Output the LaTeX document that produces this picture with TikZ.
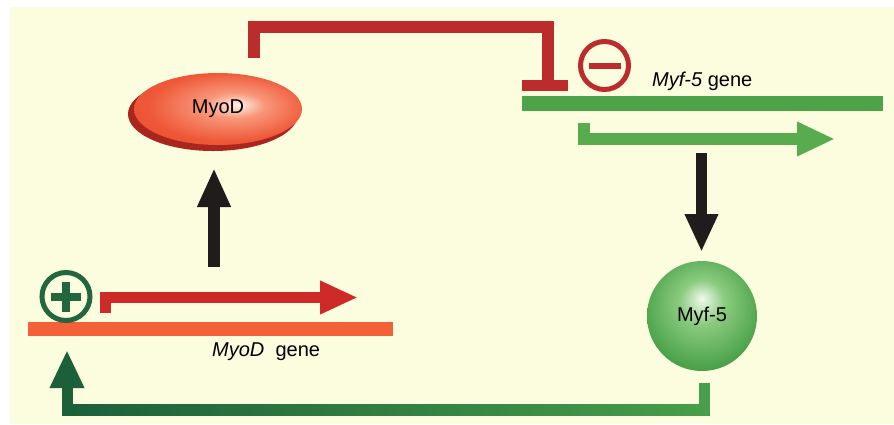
\documentclass[tikz,border=0pt]{standalone}
\usepackage{fontspec}
\setmainfont{Liberation Sans}
\usetikzlibrary{arrows.meta,shapes.geometric}
\definecolor{bg}{RGB}{252,252,222}
\definecolor{inhred}{RGB}{188,44,44}
\definecolor{arrred}{RGB}{205,42,40}
\definecolor{genered}{RGB}{244,96,56}
\definecolor{genegreen}{RGB}{76,163,72}
\definecolor{arrgreen}{RGB}{88,172,78}
\definecolor{plusgreen}{RGB}{34,102,62}
\definecolor{fbdark}{RGB}{28,96,58}
\definecolor{fblight}{RGB}{72,158,74}
\definecolor{arrblack}{RGB}{32,28,28}
\definecolor{shadowred}{RGB}{170,38,28}
\definecolor{ellA}{RGB}{255,240,232}
\definecolor{ellB}{RGB}{248,150,120}
\definecolor{ellC}{RGB}{238,88,56}
\definecolor{ellD}{RGB}{222,64,40}
\definecolor{sphA}{RGB}{240,250,236}
\definecolor{sphB}{RGB}{140,204,128}
\definecolor{sphC}{RGB}{72,160,72}
\definecolor{sphD}{RGB}{36,110,48}
\pgfdeclareradialshading{myodshade}{\pgfpoint{6bp}{3bp}}{color(0bp)=(ellA); color(9bp)=(ellB); color(24bp)=(ellC); color(50bp)=(ellD)}
\pgfdeclareradialshading{sphereshade}{\pgfpoint{0bp}{8bp}}{color(0bp)=(sphA); color(10bp)=(sphB); color(28bp)=(sphC); color(50bp)=(sphD)}
\tikzset{
  lbl/.style={font=\fontsize{20}{24}\selectfont, inner sep=0pt},
  genebar/.style={rectangle, inner sep=0pt, anchor=north west},
  bigarrow/.style={line width=12pt, line join=miter, -{Triangle[length=38pt,width=31pt]}},
  sign/.style={circle, line width=5pt, minimum size=48pt, inner sep=0pt}
}
\begin{document}
\begin{tikzpicture}[x=1pt,y=-1pt]
\useasboundingbox (0,0) rectangle (894,424);
\fill[white] (0,0) rectangle (894,424);
\fill[bg] (10,7) rectangle (894,424);

% gene bars
\node[genebar, fill=genered, minimum width=365pt, minimum height=14pt] (myodgene) at (28,322) {};
\node[genebar, fill=genegreen, minimum width=361pt, minimum height=15pt] (myfgene) at (522,96) {};
\node[lbl, anchor=base west] (myodlbl) at (212,356) {\textit{MyoD}\ \ gene};
\node[lbl, anchor=base west] (myflbl) at (652,86) {\textit{Myf-5} gene};

% MyoD protein
\fill[shadowred] (213,114) ellipse [x radius=85pt, y radius=37pt];
\node[ellipse, shade, shading=myodshade, minimum width=168pt, minimum height=72pt, inner sep=0pt, lbl] (myod) at (218,109) {MyoD};

% Myf-5 protein
\node[circle, shade, shading=sphereshade, minimum size=110pt, inner sep=0pt, lbl] (myf) at (702,316) {Myf-5};

% signs
\node[sign, draw=plusgreen] (plus) at (66,296.5) {};
\draw[plusgreen, line width=8pt] ([xshift=-15pt]plus.center) -- ([xshift=15pt]plus.center);
\draw[plusgreen, line width=8pt] ([yshift=-15pt]plus.center) -- ([yshift=15pt]plus.center);
\node[sign, draw=inhred] (minus) at (604.5,65.5) {};
\draw[inhred, line width=6pt] ([xshift=-16pt]minus.center) -- ([xshift=16pt]minus.center);

% coordinates
\coordinate (tsMyoD) at (105,313);
\coordinate (tsMyoDend) at (358,297.5);
\coordinate (tsMyf) at (584,123);
\coordinate (tsMyfend) at (835,139);
\coordinate (upS) at (214,267);
\coordinate (upE) at (214,168);
\coordinate (dnS) at (701.5,153);
\coordinate (dnE) at (701.5,252);
\coordinate (inhS) at (254,58);
\coordinate (inhTop) at (548,27);
\coordinate (inhE) at (548,85);
\coordinate (barL) at (522,85);
\coordinate (barR) at (568,85);
\coordinate (fbS) at (704,383);
\coordinate (fbC) at (704,410);
\coordinate (fbE) at (67,350);

% transcription arrows
\draw[arrred, line width=11pt, line join=miter, -{Triangle[length=38pt,width=31pt]}] (tsMyoD) |- (tsMyoDend);
\draw[arrgreen, line width=12pt, line join=miter, -{Triangle[length=38pt,width=32pt]}] (tsMyf) |- (tsMyfend);

% black arrows
\draw[arrblack, bigarrow, -{Triangle[length=39pt,width=31pt]}] (upS) -- (upE);
\draw[arrblack, bigarrow, line width=11pt] (dnS) -- (dnE);

% inhibition
\draw[inhred, line width=12pt, line join=miter] (inhS) |- (inhTop) -- (inhE);
\draw[inhred, line width=11pt] (barL) -- (barR);

% feedback activation
\draw[fbdark, line width=11pt, line join=miter, -{Triangle[length=38pt,width=32pt]}] (fbS) -- (fbC) -| (fbE);
\shade[left color=fbdark, right color=fblight] (72.5,404.5) rectangle (709.5,415.5);
\fill[fblight] (698.5,383) rectangle (709.5,404.5);
\end{tikzpicture}
\end{document}
